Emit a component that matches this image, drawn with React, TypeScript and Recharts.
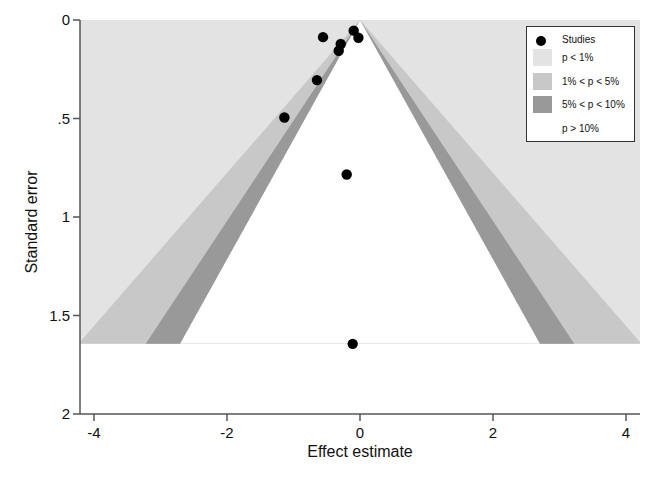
import React from 'react';
import { ComposedChart, Area, Scatter, XAxis, YAxis, ZAxis, Legend } from 'recharts';

// studies: effect estimate vs standard error
const studyEffects = [-0.556, -0.095, -0.024, -0.29, -0.32, -0.647, -1.137, -0.2, -0.11];
const studySE = [0.087, 0.054, 0.09, 0.122, 0.156, 0.305, 0.495, 0.784, 1.644];

const seMax = 1.644;
// contour half-widths at seMax (1%, 5%, 10%)
const contourHalfWidths = [4.235, 3.222, 2.705];
const contourColors = ['#c8c8c8', '#999999', '#ffffff'];
const bgColor = '#e3e3e3';

const xTicks = [-4, -2, 0, 2, 4];
const yTicks = [0, 0.5, 1, 1.5, 2];

const studies = studyEffects.map((x, i) => ({ x, y: studySE[i] }));
const background = [
  { x: -4.21, r: [0, seMax] },
  { x: 4.21, r: [0, seMax] },
];
const triangles = contourHalfWidths.map((w) => [
  { x: -w, r: [seMax, seMax] },
  { x: 0, r: [0, seMax] },
  { x: w, r: [seMax, seMax] },
]);

const legendItems = [
  { label: 'p < 1%', color: bgColor },
  { label: '1% < p < 5%', color: contourColors[0] },
  { label: '5% < p < 10%', color: contourColors[1] },
  { label: 'p > 10%', color: '#ffffff' },
];

const FunnelLegend = () => (
  <div
    style={{
      width: 107,
      height: 114,
      border: '1px solid #333',
      background: '#fff',
      fontFamily: '"Liberation Sans", Arial, sans-serif',
      fontSize: 10,
      color: '#111',
      position: 'relative',
    }}
  >
    <div style={{ position: 'absolute', left: 9, top: 9, width: 10, height: 10, borderRadius: 5, background: '#000' }} />
    <div style={{ position: 'absolute', left: 35, top: 7 }}>Studies</div>
    {legendItems.map((it, i) => (
      <React.Fragment key={it.label}>
        <div style={{ position: 'absolute', left: 6, top: 22 + i * 23.5, width: 19, height: 17, background: it.color }} />
        <div style={{ position: 'absolute', left: 35, top: 25 + i * 23.5 }}>{it.label}</div>
      </React.Fragment>
    ))}
  </div>
);

export default function App() {
  const axisColor = '#555';
  const tickStyle = { fill: '#111', fontSize: 15, fontFamily: '"Liberation Sans", Arial, sans-serif' };
  return (
    <div style={{ position: 'absolute', left: 0, top: 0, background: '#fff' }}>
      <ComposedChart width={656} height={478} margin={{ top: 20, right: 16, bottom: 0, left: 0 }}>
        <XAxis
          type="number"
          dataKey="x"
          domain={[-4.21, 4.21]}
          allowDataOverflow
          ticks={xTicks}
          tick={tickStyle}
          tickSize={7}
          tickMargin={6}
          height={64}
          stroke={axisColor}
          strokeWidth={1.5}
          label={{
            value: 'Effect estimate',
            position: 'center',
            dy: 5,
            style: { fill: '#111', fontSize: 16, fontFamily: '"Liberation Sans", Arial, sans-serif' },
          }}
        />
        <YAxis
          type="number"
          dataKey="y"
          domain={[0, 2]}
          reversed
          ticks={yTicks}
          tickFormatter={(v: number) => (v === 0.5 ? '.5' : v === 1.5 ? '1.5' : String(v))}
          tick={tickStyle}
          tickSize={7}
          tickMargin={3}
          width={80}
          stroke={axisColor}
          strokeWidth={1.5}
          label={{
            value: 'Standard error',
            angle: -90,
            position: 'center',
            dx: -9,
            dy: 5,
            style: { fill: '#111', fontSize: 16, fontFamily: '"Liberation Sans", Arial, sans-serif' },
          }}
        />
        <ZAxis range={[85, 85]} />
        <Area
          data={background}
          dataKey="r"
          type="linear"
          stroke="none"
          fill={bgColor}
          fillOpacity={1}
          dot={false}
          activeDot={false}
          isAnimationActive={false}
          legendType="none"
        />
        {triangles.map((t, i) => (
          <Area
            key={i}
            data={t}
            dataKey="r"
            type="linear"
            stroke="none"
            fill={contourColors[i]}
            fillOpacity={1}
            dot={false}
            activeDot={false}
            isAnimationActive={false}
            legendType="none"
          />
        ))}
        <Scatter data={studies} fill="#000" isAnimationActive={false} />
        <Legend
          layout="vertical"
          align="center"
          verticalAlign="middle"
          wrapperStyle={{ left: 526, top: 26, width: 109, height: 116 }}
          content={() => <FunnelLegend />}
        />
      </ComposedChart>
    </div>
  );
}
